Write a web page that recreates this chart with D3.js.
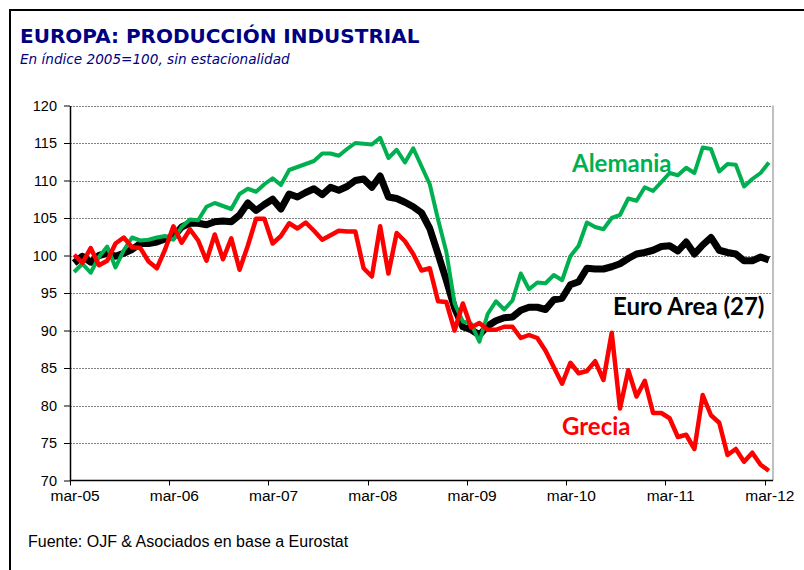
<!DOCTYPE html>
<html>
<head>
<meta charset="utf-8">
<script src="https://cdn.jsdelivr.net/npm/d3@7/dist/d3.min.js"></script>
<style>
  body { margin: 0; background: #fff; }
  svg { display: block; }
</style>
</head>
<body>
<div id="chart"></div>
<script>
// monthly index values, mar-05 .. mar-12 (2005=100)
const monthNames = ["ene", "feb", "mar", "abr", "may", "jun", "jul", "ago", "sep", "oct", "nov", "dic"];
const months = d3.timeMonth.range(new Date(2005, 2, 1), new Date(2012, 3, 1));
const monthLabels = months.map(d => monthNames[d.getMonth()] + "-" + String(d.getFullYear()).slice(2));

const tickLabels = ["mar-05", "mar-06", "mar-07", "mar-08", "mar-09", "mar-10", "mar-11", "mar-12"];
const yTicks = [70, 75, 80, 85, 90, 95, 100, 105, 110, 115, 120];

const euroArea = [
  99.0, 99.9, 99.1, 100.0, 100.3, 99.9, 100.3, 100.8, 101.6, 101.6, 101.8, 102.2,
  102.5, 103.8, 104.3, 104.3, 104.1, 104.5, 104.6, 104.5, 105.4, 107.0, 106.0, 106.8,
  107.5, 106.2, 108.2, 107.8, 108.4, 108.9, 108.1, 109.1, 108.7, 109.2, 110.0, 110.2,
  109.1, 110.6, 107.8, 107.6, 107.1, 106.5, 105.7, 103.6, 100.2, 96.7, 93.0, 90.5,
  90.1, 89.4, 90.6, 91.3, 91.7, 91.8, 92.7, 93.1, 93.1, 92.8, 94.1, 94.3,
  96.1, 96.5, 98.3, 98.2, 98.2, 98.5, 98.9, 99.6, 100.2, 100.4, 100.7, 101.2,
  101.3, 100.6, 101.8, 100.2, 101.4, 102.4, 100.7, 100.4, 100.2, 99.3, 99.3, 99.8,
  99.4
];

const alemania = [
  97.8, 98.9, 97.7, 99.8, 101.2, 98.4, 100.7, 102.4, 102.0, 102.1, 102.4, 102.6,
  102.1, 103.8, 104.8, 104.7, 106.5, 107.0, 106.6, 106.2, 108.2, 108.9, 108.5, 109.5,
  110.3, 109.4, 111.4, 111.8, 112.2, 112.6, 113.6, 113.6, 113.3, 114.2, 115.0, 114.9,
  114.8, 115.7, 113.0, 114.1, 112.4, 114.3, 111.9, 109.5, 104.8, 100.5, 93.6, 91.2,
  90.9, 88.5, 92.2, 93.9, 92.8, 94.0, 97.6, 95.5, 96.4, 96.3, 97.4, 96.7,
  99.9, 101.3, 104.4, 103.8, 103.5, 105.0, 105.4, 107.6, 107.3, 109.1, 108.6, 109.8,
  111.0, 110.7, 111.7, 111.0, 114.4, 114.2, 111.2, 112.2, 112.1, 109.2, 110.2, 111.0,
  112.4
];

const grecia = [
  100.1, 99.0, 101.0, 98.7, 99.3, 101.6, 102.4, 101.1, 101.0, 99.2, 98.3, 100.8,
  103.9, 101.7, 103.5, 102.0, 99.3, 102.8, 99.5, 102.3, 98.1, 101.3, 104.9, 104.9,
  101.6, 102.6, 104.3, 103.6, 104.4, 103.3, 102.1, 102.7, 103.3, 103.2, 103.2, 98.3,
  97.2, 103.9, 97.6, 103.0, 101.9, 100.2, 98.0, 98.3, 93.9, 93.8, 90.0, 93.6,
  90.4, 91.0, 90.1, 90.1, 90.5, 90.5, 89.0, 89.4, 89.0, 87.3, 85.1, 82.9,
  85.7, 84.3, 84.6, 85.9, 83.4, 89.7, 79.6, 84.7, 81.2, 83.3, 79.0, 79.0,
  78.3, 75.8, 76.1, 74.2, 81.4, 78.7, 77.7, 73.4, 74.2, 72.5, 73.7, 72.1,
  71.3
];

const series = [
  { name: "Euro Area (27)", values: euroArea, color: "#000000", width: 7 },
  { name: "Alemania", values: alemania, color: "#00b050", width: 4 },
  { name: "Grecia", values: grecia, color: "#ff0000", width: 4.5 }
];

const W = 804, H = 570;
const plot = { left: 70, right: 773, top: 105.5, bottom: 480.5 };

const svg = d3.select("#chart").append("svg")
  .attr("width", W)
  .attr("height", H);

// outer frame
svg.append("rect")
  .attr("x", 10).attr("y", 10)
  .attr("width", 800).attr("height", 580)
  .attr("fill", "none")
  .attr("stroke", "#000")
  .attr("stroke-width", 2);

// titles
svg.append("text")
  .attr("x", 20).attr("y", 43)
  .attr("font-family", "DejaVu Sans")
  .attr("font-weight", "bold")
  .attr("font-size", 20)
  .attr("fill", "#000080")
  .text("EUROPA: PRODUCCIÓN INDUSTRIAL");

svg.append("text")
  .attr("x", 20).attr("y", 64)
  .attr("font-family", "DejaVu Sans")
  .attr("font-style", "italic")
  .attr("font-size", 13.6)
  .attr("fill", "#000080")
  .text("En índice 2005=100, sin estacionalidad");

// scales
const x = d3.scaleBand()
  .domain(monthLabels)
  .range([plot.left, plot.right])
  .padding(0);

const y = d3.scaleLinear()
  .domain([70, 120])
  .range([plot.bottom, plot.top]);

const xc = d => x(d) + x.bandwidth() / 2;

// gridlines
svg.append("g")
  .selectAll("line")
  .data(yTicks.filter(v => v > 70))
  .join("line")
  .attr("x1", plot.left).attr("x2", plot.right)
  .attr("y1", d => Math.round(y(d)) + 0.5)
  .attr("y2", d => Math.round(y(d)) + 0.5)
  .attr("stroke", "#808080")
  .attr("stroke-width", 1)
  .attr("stroke-dasharray", "2,1");

// right plot edge
svg.append("line")
  .attr("x1", plot.right).attr("x2", plot.right)
  .attr("y1", plot.top).attr("y2", plot.bottom)
  .attr("stroke", "#c0c0c0")
  .attr("stroke-width", 2);

// y axis
const yAxis = svg.append("g")
  .attr("transform", `translate(${plot.left},0)`)
  .call(d3.axisLeft(y).tickValues(yTicks).tickSize(6).tickPadding(7).tickSizeOuter(0));
yAxis.select(".domain").attr("stroke", "#000").attr("stroke-width", 1.5);
yAxis.selectAll(".tick line").attr("stroke", "#000");
yAxis.selectAll("text")
  .attr("font-family", "Liberation Sans")
  .attr("font-size", 14.5)
  .attr("fill", "#000");

// x axis: ticks on category boundaries, labels centred in the category
const xAxis = svg.append("g")
  .attr("transform", `translate(0,${plot.bottom})`);
xAxis.append("line")
  .attr("x1", plot.left).attr("x2", plot.right)
  .attr("stroke", "#000").attr("stroke-width", 1.5);
xAxis.selectAll(".tk")
  .data(tickLabels)
  .join("line")
  .attr("class", "tk")
  .attr("x1", d => Math.round(x(d)) + 0.5)
  .attr("x2", d => Math.round(x(d)) + 0.5)
  .attr("y1", 0).attr("y2", 5)
  .attr("stroke", "#000");
xAxis.selectAll(".lb")
  .data(tickLabels)
  .join("text")
  .attr("class", "lb")
  .attr("x", d => xc(d) + 1)
  .attr("y", 20)
  .attr("text-anchor", "middle")
  .attr("font-family", "Liberation Sans")
  .attr("font-size", 15.5)
  .attr("fill", "#000")
  .text(d => d);

// lines
const line = d3.line()
  .x((d, i) => xc(monthLabels[i]))
  .y(d => y(d))
  .curve(d3.curveLinear);

svg.append("g")
  .selectAll("path")
  .data(series)
  .join("path")
  .attr("d", d => line(d.values))
  .attr("fill", "none")
  .attr("stroke", d => d.color)
  .attr("stroke-width", d => d.width)
  .attr("stroke-linejoin", "round");

// series labels
const labels = [
  { text: "Alemania", color: "#00b050", x: 572, y: 172 },
  { text: "Euro Area (27)", color: "#000000", x: 613, y: 315 },
  { text: "Grecia", color: "#ff0000", x: 562, y: 435 }
];
svg.append("g")
  .selectAll("text")
  .data(labels)
  .join("text")
  .attr("x", d => d.x)
  .attr("y", d => d.y)
  .attr("font-family", "Lato")
  .attr("font-weight", "bold")
  .attr("font-size", 24)
  .attr("fill", d => d.color)
  .text(d => d.text);

// source
svg.append("text")
  .attr("x", 28).attr("y", 547)
  .attr("font-family", "Liberation Sans")
  .attr("font-size", 16)
  .attr("fill", "#000")
  .text("Fuente: OJF & Asociados en base a Eurostat");
</script>
</body>
</html>
